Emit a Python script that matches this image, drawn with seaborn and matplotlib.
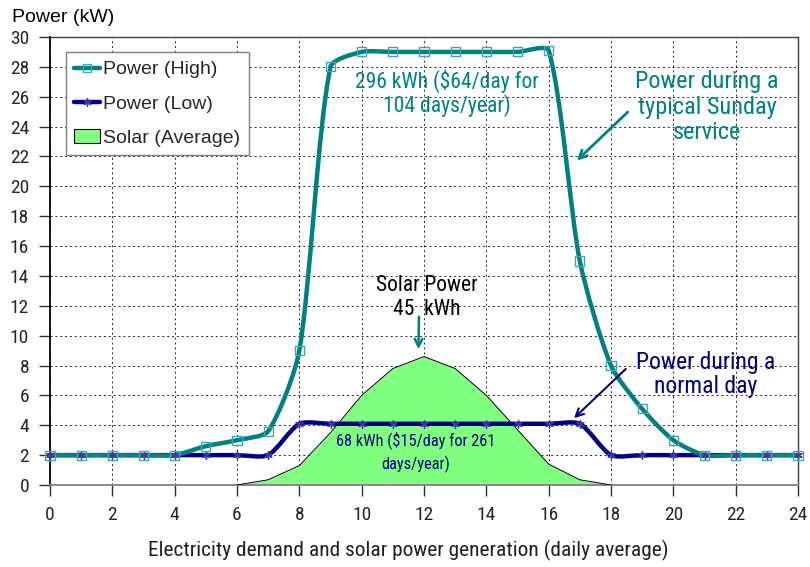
import matplotlib
matplotlib.use("Agg")
import matplotlib.pyplot as plt
from matplotlib.path import Path
from matplotlib.patches import PathPatch, Patch
from matplotlib.lines import Line2D
import seaborn as sns
import pandas as pd
import numpy as np

# Hourly data
hours = list(range(25))
power_high = [2.0, 2.0, 2.0, 2.0, 2.0, 2.6, 3.0, 3.6, 9.0, 28.0, 29.0, 29.0, 29.0,
              29.0, 29.0, 29.0, 29.1, 15.0, 8.0, 5.1, 3.0, 2.0, 2.0, 2.0, 2.0]
power_low = [2.0, 2.0, 2.0, 2.0, 2.0, 2.0, 2.0, 2.0, 4.1, 4.1, 4.1, 4.1, 4.1,
             4.1, 4.1, 4.1, 4.1, 4.1, 2.0, 2.0, 2.0, 2.0, 2.0, 2.0, 2.0]
solar_hours = list(range(6, 19))
solar = [0.0, 0.35, 1.3, 3.5, 6.0, 7.8, 8.6, 7.8, 6.0, 3.7, 1.4, 0.35, 0.0]

high_df = pd.DataFrame({"hour": hours, "kw": power_high})
low_df = pd.DataFrame({"hour": hours, "kw": power_low})
solar_df = pd.DataFrame({"hour": solar_hours, "kw": solar})

TEAL = "#008080"
NAVY = "#000080"
GREEN = "#80FF80"
NARROW = ["Roboto Condensed", "DejaVu Sans"]
REGULAR = ["Liberation Sans", "DejaVu Sans"]

sns.set_theme(style="white")
plt.rcParams["font.family"] = REGULAR


def smooth_path(ax, xs, ys, tension=0.24):
    """Excel-like smoothed line: bezier through the points, built in display space"""
    pts = ax.transData.transform(np.column_stack([xs, ys]))
    n = len(pts)
    verts = [pts[0]]
    codes = [Path.MOVETO]
    for i in range(n - 1):
        p0 = pts[i - 1] if i > 0 else pts[i]
        p1, p2 = pts[i], pts[i + 1]
        p3 = pts[i + 2] if i + 2 < n else pts[i + 1]
        d01 = np.hypot(*(p1 - p0))
        d12 = np.hypot(*(p2 - p1))
        d23 = np.hypot(*(p3 - p2))
        k1 = d12 / (d01 + d12) * tension if d01 + d12 > 0 else 0
        k2 = d12 / (d12 + d23) * tension if d12 + d23 > 0 else 0
        verts += [p1 + (p2 - p0) * k1, p2 - (p3 - p1) * k2, p2]
        codes += [Path.CURVE4] * 3
    verts = ax.transData.inverted().transform(np.array(verts))
    return Path(verts, codes)


fig = plt.figure(figsize=(8.1, 5.67), dpi=100)
ax = fig.add_axes([50 / 810, 1 - 485 / 567, 748 / 810, 448 / 567])
ax.set_xlim(0, 24)
ax.set_ylim(0, 30)

# Solar area (straight segments, thin black outline)
ax.fill_between(solar_df["hour"], solar_df["kw"], color=GREEN, lw=0, zorder=2)
sns.lineplot(data=solar_df, x="hour", y="kw", color="black", lw=0.7, ax=ax, zorder=3)

# Smoothed demand lines
for df, col in [(low_df, NAVY), (high_df, TEAL)]:
    path = smooth_path(ax, df["hour"].values, df["kw"].values)
    ax.add_patch(PathPatch(path, fill=False, edgecolor=col, lw=3.2,
                           capstyle="round", joinstyle="round", zorder=4, clip_on=False))

sns.scatterplot(data=low_df, x="hour", y="kw", marker=(6, 2, 0), s=30,
                color="#3a3aa0", linewidth=1, ax=ax, zorder=5, clip_on=False)
sns.scatterplot(data=high_df, x="hour", y="kw", marker="s", s=42,
                facecolor="none", edgecolor="#40a8a8", linewidth=1, ax=ax, zorder=6, clip_on=False)

# Grid, spines, ticks
ax.set_xticks(range(0, 25, 2))
ax.set_yticks(range(0, 31, 2))
ax.grid(True, color="black", linestyle=(0, (2, 3)), lw=0.7, alpha=0.85)
ax.set_axisbelow(True)
for side in ["top", "right"]:
    ax.spines[side].set_color("#404040")
    ax.spines[side].set_linewidth(1.0)
ax.spines["left"].set_color("black")
ax.spines["bottom"].set_color("#808080")
ax.spines["bottom"].set_linewidth(1.3)
ax.tick_params(axis="both", direction="out", length=8, width=1, color="#303030",
               labelsize=14, bottom=True, left=True)
ax.tick_params(axis="x", pad=7)
ax.tick_params(axis="y", pad=7)
for lab in ax.get_xticklabels() + ax.get_yticklabels():
    lab.set_family(NARROW)

ax.set_xlabel("Electricity demand and solar power generation (daily average)",
              fontsize=15.4, family=NARROW, color="#202020")
ax.xaxis.set_label_coords((408 - 50) / 748, -0.123)
ax.set_ylabel("")
fig.text(12 / 810, 1 - 18 / 567, "Power (kW)", fontsize=14, ha="left", va="center",
         color="black")

# Annotations
ax.text(12.74, 26.25, "296 kWh ($64/day for\n104 days/year)", color=TEAL, fontsize=15.5,
        family=NARROW, ha="center", va="center", linespacing=1.05, zorder=7)
ax.text(21.08, 25.3, "Power during a\ntypical Sunday\nservice", color=TEAL, fontsize=17.5,
        family=NARROW, ha="center", va="center", linespacing=1.15, zorder=7)
ax.annotate("", xy=(16.84, 21.6), xytext=(18.6, 25.1),
            arrowprops=dict(arrowstyle="->", color=TEAL, lw=2, mutation_scale=14), zorder=7)

ax.text(12.1, 12.55, "Solar Power\n45  kWh", color="black", fontsize=15.5,
        family=NARROW, ha="center", va="center", linespacing=1.15, zorder=7)
ax.annotate("", xy=(11.82, 8.9), xytext=(11.84, 11.45),
            arrowprops=dict(arrowstyle="->", color=TEAL, lw=1.8, mutation_scale=14), zorder=7)

ax.text(21.05, 7.4, "Power during a\nnormal day", color=NAVY, fontsize=17,
        family=NARROW, ha="center", va="center", linespacing=1.05, zorder=7)
ax.annotate("", xy=(16.75, 4.35), xytext=(18.54, 7.9),
            arrowprops=dict(arrowstyle="->", color=NAVY, lw=1.5, mutation_scale=14), zorder=7)

ax.text(11.72, 2.2, "68 kWh ($15/day for 261\ndays/year)", color=NAVY, fontsize=11.8,
        family=NARROW, ha="center", va="center", linespacing=1.5, zorder=7)

# Legend
handles = [
    Line2D([], [], color=TEAL, lw=3.2, marker="s", mfc="none", mec="#40a8a8", ms=6),
    Line2D([], [], color=NAVY, lw=3.2, marker=(6, 2, 0), mec="#3a3aa0", ms=6),
    Patch(facecolor=GREEN, edgecolor="black", lw=0.8),
]
leg = ax.legend(handles, ["Power (High)", "Power (Low)", "Solar (Average)"],
                loc="upper left", bbox_to_anchor=(0.021, 0.9665), borderaxespad=0,
                fontsize=14, frameon=True, fancybox=False, framealpha=1,
                edgecolor="#808080", handlelength=1.3, handletextpad=0.15,
                labelspacing=0.85, borderpad=0.45)
leg.get_frame().set_linewidth(1.0)
leg.set_zorder(8)

fig.savefig("out.png", dpi=100)
